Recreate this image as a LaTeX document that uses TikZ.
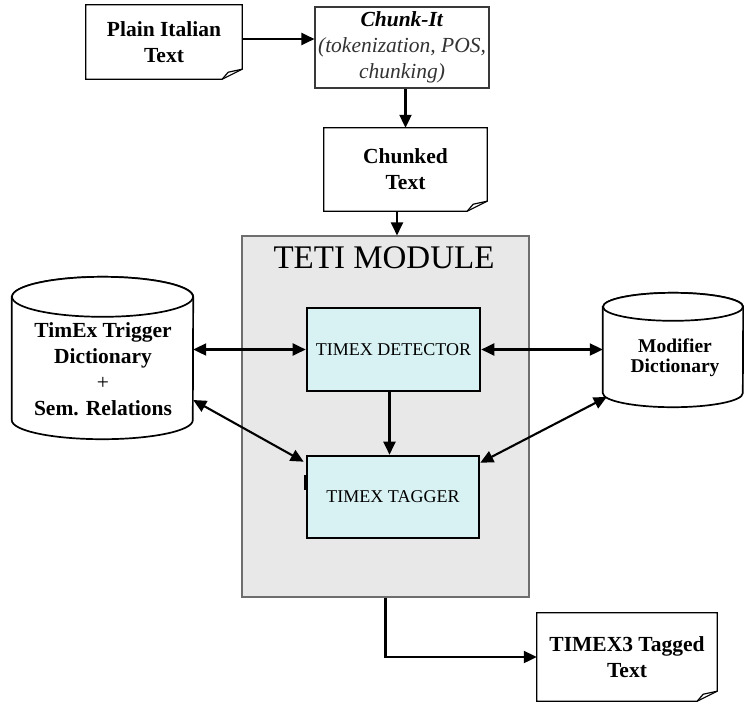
\documentclass[tikz,border=0pt]{standalone}
\usepackage{fontspec}
\setmainfont{Liberation Serif}
\usetikzlibrary{arrows.meta,calc}
\definecolor{modfill}{HTML}{E8E8E8}
\definecolor{modedge}{HTML}{6E6E6E}
\definecolor{unitfill}{HTML}{D8F2F3}
\definecolor{softtext}{HTML}{333333}
\begin{document}
\begin{tikzpicture}[
  x=1pt, y=-1pt,
  docbox/.style={fill=white, inner sep=0pt, align=center,
    font=\bfseries\fontsize{21.5}{26}\selectfont},
  docline/.style={draw=black, line width=1.2pt, line join=miter},
  unitbox/.style={draw=black, line width=2.6pt, fill=unitfill, inner sep=0pt,
    minimum width=173pt, minimum height=83pt, font=\fontsize{18}{20}\selectfont},
  tip/.tip={Triangle[length=13pt,width=12pt]},
  flow/.style={line width=2.1pt, -tip},
  both/.style={line width=2.1pt, tip-tip},
  cyl/.style={draw=black, line width=1.7pt, fill=white},
  plainnode/.style={inner sep=0pt}
]
\useasboundingbox (0,0) rectangle (744,702);

% TETI module container
\node[plainnode, draw=modedge, line width=1.1pt, fill=modfill,
      minimum width=287pt, minimum height=361pt] (teti) at (385.5,416.5) {};
\node[plainnode, font=\fontsize{33}{36}\selectfont] (tetititle) at (384,258) {TETI MODULE};

% processing units inside the module
\node[unitbox] (det) at (393.5,349.5) {TIMEX DETECTOR};
\node[unitbox, minimum width=172pt, minimum height=82pt] (tag) at (393,497) {TIMEX TAGGER};
\draw[line width=2pt] (304.5,475) -- (304.5,490);

% documents with a dog-eared corner
\node[docbox, minimum width=156pt, minimum height=74pt] (plain) at (164,42) {Plain Italian\\Text};
\node[docbox, minimum width=163pt, minimum height=83pt] (chunked) at (405.5,169.5) {Chunked\\Text};
\node[docbox, minimum width=180pt, minimum height=88pt] (outdoc) at (627,657) {TIMEX3 Tagged\\Text};
\foreach \n in {plain,chunked,outdoc}{
  \draw[docline] (\n.north west) -- (\n.north east) -- ([yshift=10pt]\n.south east)
     -- ([xshift=-20pt]\n.south east) -- (\n.south west) -- cycle;
  \draw[docline] ([xshift=-20pt]\n.south east) -- ([xshift=-14pt,yshift=7pt]\n.south east)
     -- ([yshift=10pt]\n.south east);
}

% Chunk-It tool
\node[plainnode, draw=gray!45!black, line width=1.1pt, fill=white, align=center,
      minimum width=174pt, minimum height=81pt,
      font=\fontsize{21.5}{26}\selectfont] (chunk) at (402,47.5)
  {\textbf{\textit{Chunk-It}}\\\textcolor{softtext}{\itshape(tokenization, POS,}\\\textcolor{softtext}{\itshape chunking)}};

% dictionaries (cylinders)
\node[plainnode, minimum width=181pt, minimum height=123pt] (trig) at (102.5,358.5) {};
\draw[cyl] (trig.north west) -- (trig.south west)
  arc[start angle=180, end angle=360, x radius=90.5pt, y radius=19pt]
  -- (trig.north east)
  arc[start angle=0, end angle=180, x radius=90.5pt, y radius=20pt] -- cycle;
\draw[cyl] (trig.north) ellipse [x radius=90.5pt, y radius=20pt];
\node[plainnode, align=center, font=\bfseries\fontsize{21.5}{26}\selectfont] (trigtxt) at (103,369)
  {TimEx Trigger\\Dictionary\\{\mdseries +}\\Sem. Relations};

\node[plainnode, minimum width=140pt, minimum height=86pt] (mod) at (673,350) {};
\draw[cyl] (mod.north west) -- (mod.south west)
  arc[start angle=180, end angle=360, x radius=70pt, y radius=14pt]
  -- (mod.north east)
  arc[start angle=0, end angle=180, x radius=70pt, y radius=14pt] -- cycle;
\draw[cyl] (mod.north) ellipse [x radius=70pt, y radius=14pt];
\node[plainnode, align=center, font=\bfseries\fontsize{19.5}{20}\selectfont] (modtxt) at (675,358)
  {Modifier\\Dictionary};

% connectors
\draw[flow] ([yshift=3pt]plain.east) -- ([yshift=3pt]plain.east -| chunk.west);
\draw[flow] (chunked.north |- chunk.south) -- (chunked.north);
\draw[flow] ([xshift=-8.5pt]chunked.south) -- ([xshift=-8.5pt]chunked.south |- teti.north);
\draw[both] (trig.east |- det.west) -- (det.west);
\draw[both] ([yshift=-41.5pt]trig.east) -- ([xshift=-2pt,yshift=-7pt]tag.north west);
\draw[both] (det.east) -- (mod.west |- det.east);
\draw[both] ([xshift=4pt,yshift=-47pt]mod.west) -- ([yshift=-8pt]tag.north east);
\draw[flow] ([xshift=-4pt]det.south) -- ([xshift=-4pt]det.south |- tag.north);
\draw[flow] (teti.south) |- (outdoc.west);
\end{tikzpicture}
\end{document}
